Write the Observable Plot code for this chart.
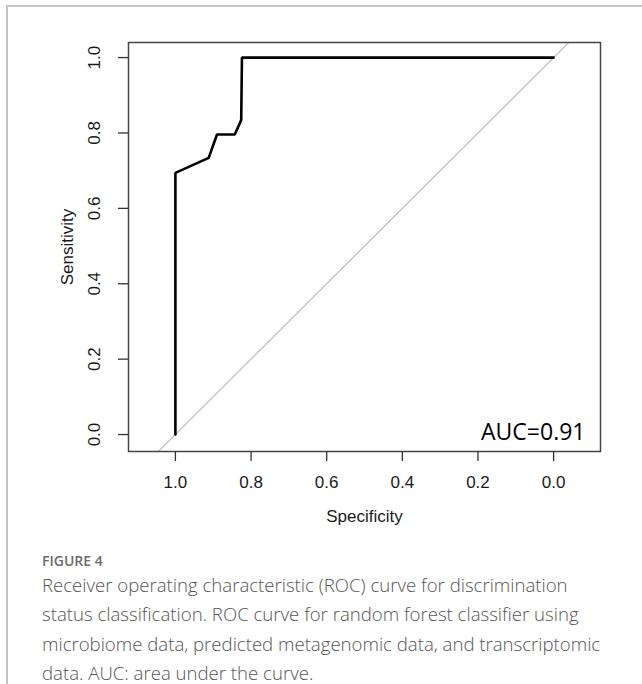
<!DOCTYPE html>
<html>
<head>
<meta charset="utf-8">
<script src="https://cdn.jsdelivr.net/npm/d3@7"></script>
<script src="https://cdn.jsdelivr.net/npm/@observablehq/plot@0.6"></script>
<style>
  html, body { margin: 0; padding: 0; background: #fff; }
  #page { position: relative; width: 642px; height: 684px; overflow: hidden; background: #fff; }
  #border { position: absolute; left: 6px; top: 5px; right: -10px; bottom: -10px; border-left: 2px solid #c4c4c4; border-top: 2px solid #c4c4c4; }
  #chart { position: absolute; left: 0; top: 0; }
  #figlabel { position: absolute; left: 42px; top: 551px; font-family: "Open Sans", sans-serif; font-size: 14px; color: #6b6b6b; font-weight: 600; }
  #caption { position: absolute; left: 42px; top: 570px; white-space: nowrap; font-family: "Open Sans", sans-serif; font-size: 18.6px; line-height: 29.4px; color: #555; font-weight: 300; }
</style>
</head>
<body>
<div id="page">
  <div id="border"></div>
  <div id="chart"></div>
  <div id="figlabel">FIGURE 4</div>
  <div id="caption">Receiver operating characteristic (ROC) curve for discrimination<br>status classification. ROC curve for random forest classifier using<br>microbiome data, predicted metagenomic data, and transcriptomic<br>data. AUC: area under the curve.</div>
</div>
<script>
// ROC curve points (specificity, sensitivity)
const specificity = [1.0, 1.0, 0.912, 0.89, 0.843, 0.826, 0.824, 0.0];
const sensitivity = [0.0, 0.694, 0.734, 0.796, 0.796, 0.834, 1.0, 1.0];
const xTicks = [1.0, 0.8, 0.6, 0.4, 0.2, 0.0];
const yTicks = [0.0, 0.2, 0.4, 0.6, 0.8, 1.0];
const aucLabel = ["AUC=0.91"];

const xDomain = [1.124, -0.124];
const yDomain = [-0.045, 1.04];

const roc = specificity.map((s, i) => ({spec: s, sens: sensitivity[i]}));
const diag = xDomain.map(v => ({spec: v, sens: 1 - v}));

const fmt = d3.format(".1f");

const chart = Plot.plot({
  width: 642,
  height: 530,
  marginLeft: 128,
  marginRight: 42,
  marginTop: 42,
  marginBottom: 79,
  style: {fontFamily: "'Liberation Sans', Arial, sans-serif", fontSize: "17px", color: "#1a1a1a", background: "transparent"},
  x: {domain: xDomain},
  y: {domain: yDomain},
  marks: [
    Plot.line(diag, {x: "spec", y: "sens", stroke: "#bdbdbd", strokeWidth: 1.2, clip: true}),
    Plot.line(roc, {x: "spec", y: "sens", stroke: "#000", strokeWidth: 2.6, strokeLinejoin: "miter"}),
    Plot.frame({stroke: "#444", strokeWidth: 1.5}),
    Plot.axisX({ticks: xTicks, tickFormat: fmt, tickSize: 10, tickPadding: 14, fontSize: 17, stroke: "#333", strokeWidth: 1.3,
      label: "Specificity", labelAnchor: "center", labelOffset: 70, labelArrow: "none"}),
    Plot.axisY({ticks: yTicks, tickFormat: fmt, tickSize: 10, tickPadding: 19, tickRotate: -90, fontSize: 17, stroke: "#333", strokeWidth: 1.3,
      label: "Sensitivity", labelAnchor: "center", labelOffset: 68, labelArrow: "none"}),
    Plot.text(aucLabel, {text: d => d, frameAnchor: "bottom-right", dx: -15, dy: -12, textAnchor: "end", lineAnchor: "bottom",
      fontSize: 23, fontFamily: "'Open Sans', sans-serif", fill: "#000"})
  ]
});
document.getElementById("chart").appendChild(chart);
</script>
</body>
</html>
